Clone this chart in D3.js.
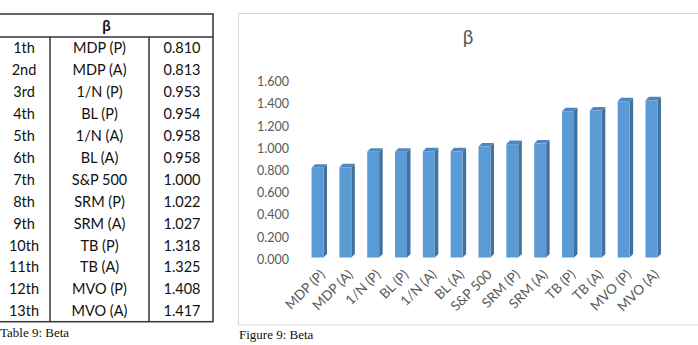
<!DOCTYPE html>
<html>
<head>
<meta charset="utf-8">
<script src="https://cdn.jsdelivr.net/npm/d3@7"></script>
<style>
  body { margin: 0; background: #fff; }
  svg { display: block; }
</style>
</head>
<body>
<svg id="fig" width="698" height="345"></svg>
<script>
var ranks = ["1th", "2nd", "3rd", "4th", "5th", "6th", "7th", "8th", "9th", "10th", "11th", "12th", "13th"];
var portfolios = ["MDP (P)", "MDP (A)", "1/N (P)", "BL (P)", "1/N (A)", "BL (A)", "S&P 500",
                  "SRM (P)", "SRM (A)", "TB (P)", "TB (A)", "MVO (P)", "MVO (A)"];
var betas = [0.810, 0.813, 0.953, 0.954, 0.958, 0.958, 1.000, 1.022, 1.027, 1.318, 1.325, 1.408, 1.417];
var yTicks = [0, 0.2, 0.4, 0.6, 0.8, 1.0, 1.2, 1.4, 1.6];

var svg = d3.select("#fig");
var sans = "Lato, 'Open Sans', sans-serif";

// ---- table ----
var tx = [-2, 50, 149, 213];          // column boundaries
var tTop = 14, headH = 23, rowH = 21.9;
var tbl = svg.append("g");
var tBottom = tTop + headH + rowH * ranks.length;

tbl.append("rect")
    .attr("x", tx[0]).attr("y", tTop)
    .attr("width", tx[3] - tx[0]).attr("height", tBottom - tTop)
    .attr("fill", "none").attr("stroke", "#333").attr("stroke-width", 1.5);
tbl.append("line")
    .attr("x1", tx[0]).attr("x2", tx[3])
    .attr("y1", tTop + headH).attr("y2", tTop + headH)
    .attr("stroke", "#333").attr("stroke-width", 1.5);
[tx[1], tx[2]].forEach(function(x) {
    tbl.append("line")
        .attr("x1", x).attr("x2", x)
        .attr("y1", tTop + headH).attr("y2", tBottom)
        .attr("stroke", "#333").attr("stroke-width", 1.5);
});
tbl.append("text")
    .attr("x", (tx[0] + tx[3]) / 2 + 1).attr("y", tTop + headH / 2 + 5)
    .attr("text-anchor", "middle")
    .attr("font-family", sans).attr("font-size", 15).attr("font-weight", "bold")
    .attr("fill", "#111")
    .text("β");

var rows = tbl.selectAll("g.row")
    .data(ranks.map(function(r, i) { return [r, portfolios[i], betas[i].toFixed(3)]; }))
    .enter().append("g")
    .attr("transform", function(d, i) { return "translate(0," + (tTop + headH + rowH * i + rowH / 2 + 5.5) + ")"; });
[0, 1, 2].forEach(function(c) {
    rows.append("text")
        .attr("x", c === 0 ? 24 : (tx[c] + tx[c + 1]) / 2 + (c === 2 ? 1 : 0))
        .attr("text-anchor", "middle")
        .attr("font-family", sans).attr("font-size", 14.5)
        .attr("fill", "#111")
        .text(function(d) { return d[c]; });
});

svg.append("text")
    .attr("x", 0).attr("y", 337)
    .attr("font-family", "'Liberation Serif', 'Times New Roman', serif").attr("font-size", 13)
    .attr("fill", "#111")
    .text("Table 9: Beta");

// ---- chart ----
svg.append("rect")
    .attr("x", 238.5).attr("y", 13.5)
    .attr("width", 470).attr("height", 311.5)
    .attr("fill", "#fff").attr("stroke", "#d9d9d9");

svg.append("text")
    .attr("x", 468).attr("y", 44)
    .attr("text-anchor", "middle")
    .attr("font-family", sans).attr("font-size", 19)
    .attr("fill", "#595959")
    .text("β");

var x = d3.scaleBand()
    .domain(portfolios)
    .range([303.6, 665.4])
    .paddingInner(0.57)
    .paddingOuter(0.285);

var y = d3.scaleLinear()
    .domain([0, 1.6])
    .range([257.5, 80]);

var yAxis = svg.append("g")
    .attr("transform", "translate(289,1.8)")
    .call(d3.axisLeft(y).tickValues(yTicks).tickFormat(d3.format(".3f")).tickSize(0).tickPadding(0));
yAxis.select(".domain").remove();
yAxis.selectAll("text")
    .attr("font-family", sans).attr("font-size", 12.5).attr("fill", "#595959");

var d = 3.5; // 3d depth
var bars = svg.append("g").selectAll("g")
    .data(betas)
    .enter().append("g");

bars.append("path")   // side
    .attr("fill", "#41719c")
    .attr("d", function(v, i) {
        var x1 = x(portfolios[i]) + x.bandwidth(), yt = y(v), yb = y(0);
        return "M" + x1 + "," + yt + "L" + (x1 + d) + "," + (yt - d) + "L" + (x1 + d) + "," + (yb - d) + "L" + x1 + "," + yb + "Z";
    });
bars.append("path")   // top
    .attr("fill", "#4f86c0")
    .attr("d", function(v, i) {
        var x0 = x(portfolios[i]), x1 = x0 + x.bandwidth(), yt = y(v);
        return "M" + x0 + "," + yt + "L" + (x0 + d) + "," + (yt - d) + "L" + (x1 + d) + "," + (yt - d) + "L" + x1 + "," + yt + "Z";
    });
bars.append("rect")   // front
    .attr("fill", "#5b9bd5")
    .attr("x", function(v, i) { return x(portfolios[i]); })
    .attr("y", function(v) { return y(v); })
    .attr("width", x.bandwidth())
    .attr("height", function(v) { return y(0) - y(v); });

var xAxis = svg.append("g")
    .attr("transform", "translate(0,272)")
    .call(d3.axisBottom(x).tickSize(0).tickPadding(0));
xAxis.select(".domain").remove();
xAxis.selectAll("text")
    .attr("font-family", sans).attr("font-size", 13.5).attr("fill", "#595959")
    .attr("text-anchor", "end")
    .attr("dy", "0.35em")
    .attr("transform", "translate(5,0) rotate(-45)");

svg.append("text")
    .attr("x", 239).attr("y", 339)
    .attr("font-family", "'Liberation Serif', 'Times New Roman', serif").attr("font-size", 13)
    .attr("fill", "#111")
    .text("Figure 9: Beta");
</script>
</body>
</html>
